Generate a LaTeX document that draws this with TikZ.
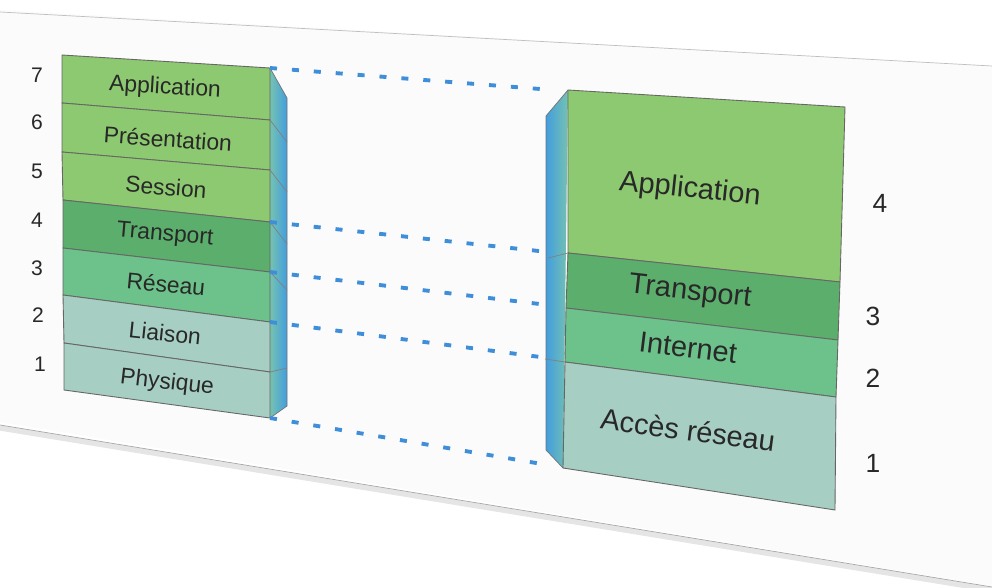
\documentclass[tikz,border=0pt]{standalone}
\usepackage{fontspec}
\setmainfont{Liberation Sans}
\usepackage{tikz}
\usepackage{xcolor}
\usetikzlibrary{arrows.meta}

\definecolor{appgreen}{RGB}{141,201,112}
\definecolor{trgreen}{RGB}{92,174,108}
\definecolor{netgreen}{RGB}{108,194,138}
\definecolor{linkteal}{RGB}{166,206,194}
\definecolor{sideblue}{RGB}{66,158,222}
\definecolor{sidecyan}{RGB}{118,194,176}
\definecolor{linkblue}{RGB}{62,142,218}
\definecolor{inkgray}{RGB}{40,40,40}

\tikzset{
    layer/.style={draw=black!60, line width=0.5pt},
    ositext/.style={text=inkgray, font=\fontsize{13}{15}\selectfont},
    tcptext/.style={text=inkgray, font=\fontsize{16.5}{19}\selectfont},
    ositag/.style={text=inkgray, font=\fontsize{12}{14}\selectfont},
    tcptag/.style={text=inkgray, font=\fontsize{15}{17}\selectfont},
    link/.style={linkblue, line width=2.2pt, dash pattern=on 4pt off 8.5pt},
}

\begin{document}
\begin{tikzpicture}[x=0.02cm, y=-0.02cm]
            \useasboundingbox (0,0) rectangle (992,588);
            \fill[black!1.5] (0,10) -- (992,66) -- (992,586) -- (0,422) -- cycle;
            \draw[black!25] (0,12) -- (992,66);
            \draw[black!10, line width=3pt] (0,428) -- (992,590);
            \draw[black!35] (0,425) -- (992,587);
            % modele OSI
            \coordinate (L0a) at (62,55);   \coordinate (L0b) at (270,68);
            \coordinate (L1a) at (62,103);  \coordinate (L1b) at (270,120);
            \coordinate (L2a) at (62,152);  \coordinate (L2b) at (270,170);
            \coordinate (L3a) at (63,200);  \coordinate (L3b) at (270,222);
            \coordinate (L4a) at (63,248);  \coordinate (L4b) at (270,272);
            \coordinate (L5a) at (63,295);  \coordinate (L5b) at (270,322);
            \coordinate (L6a) at (64,343);  \coordinate (L6b) at (270,372);
            \coordinate (L7a) at (64,390);  \coordinate (L7b) at (270,418);
            \shade[left color=sidecyan, right color=sideblue] (L0b) -- (287,98) -- (287,406) -- (L7b) -- cycle;
            \draw[black!55] (L0b) -- (287,98) -- (287,406) -- (L7b);
            \filldraw[layer, fill=appgreen] (L0a) -- (L0b) -- (L1b) -- (L1a) -- cycle;
            \filldraw[layer, fill=appgreen] (L1a) -- (L1b) -- (L2b) -- (L2a) -- cycle;
            \filldraw[layer, fill=appgreen] (L2a) -- (L2b) -- (L3b) -- (L3a) -- cycle;
            \filldraw[layer, fill=trgreen] (L3a) -- (L3b) -- (L4b) -- (L4a) -- cycle;
            \filldraw[layer, fill=netgreen] (L4a) -- (L4b) -- (L5b) -- (L5a) -- cycle;
            \filldraw[layer, fill=linkteal] (L5a) -- (L5b) -- (L6b) -- (L6a) -- cycle;
            \filldraw[layer, fill=linkteal] (L6a) -- (L6b) -- (L7b) -- (L7a) -- cycle;
            \draw[black!50] (L1b) -- ++(17,22);
            \draw[black!50] (L2b) -- ++(17,22);
            \draw[black!50] (L3b) -- ++(17,22);
            \draw[black!50] (L4b) -- ++(17,18);
            \draw[black!50] (L6b) -- ++(17,-4);
            \node[ositext, rotate=-3.5] (osi7) at (165,88) {Application};
            \node[ositext, rotate=-4] (osi6) at (168,139) {Présentation};
            \node[ositext, rotate=-4.5] (osi5) at (166,187) {Session};
            \node[ositext, rotate=-5] (osi4) at (165,235) {Transport};
            \node[ositext, rotate=-5.5] (osi3) at (166,284) {Réseau};
            \node[ositext, rotate=-6] (osi2) at (165,333) {Liaison};
            \node[ositext, rotate=-6.5] (osi1) at (167,383) {Physique};
            \node[ositag] (n7) at (37,75) {7};
            \node[ositag] (n6) at (37,122) {6};
            \node[ositag] (n5) at (37,171) {5};
            \node[ositag] (n4) at (37,220) {4};
            \node[ositag] (n3) at (37,268) {3};
            \node[ositag] (n2) at (38,315) {2};
            \node[ositag] (n1) at (40,364) {1};
            % modele TCP/IP
            \coordinate (R0a) at (568,90);  \coordinate (R0b) at (845,107);
            \coordinate (R1a) at (568,253); \coordinate (R1b) at (840,282);
            \coordinate (R2a) at (566,308); \coordinate (R2b) at (838,340);
            \coordinate (R3a) at (565,362); \coordinate (R3b) at (836,397);
            \coordinate (R4a) at (563,468); \coordinate (R4b) at (835,510);
            \shade[left color=sideblue, right color=sidecyan] (R0a) -- (546,116) -- (546,450) -- (R4a) -- cycle;
            \draw[black!55] (R0a) -- (546,116) -- (546,450) -- (R4a);
            \filldraw[layer, fill=appgreen] (R0a) -- (R0b) -- (R1b) -- (R1a) -- cycle;
            \filldraw[layer, fill=trgreen] (R1a) -- (R1b) -- (R2b) -- (R2a) -- cycle;
            \filldraw[layer, fill=netgreen] (R2a) -- (R2b) -- (R3b) -- (R3a) -- cycle;
            \filldraw[layer, fill=linkteal] (R3a) -- (R3b) -- (R4b) -- (R4a) -- cycle;
            \draw[black!50] (R1a) -- ++(-20,5);
            \draw[black!50] (R3a) -- ++(-20,-3);
            \node[tcptext, rotate=-6] (tcp4) at (690,190) {Application};
            \node[tcptext, rotate=-6.5] (tcp3) at (690,293) {Transport};
            \node[tcptext, rotate=-7] (tcp2) at (688,348) {Internet};
            \node[tcptext, rotate=-7.5] (tcp1) at (688,430) {Accès réseau};
            \node[tcptag] (m4) at (880,203) {4};
            \node[tcptag] (m3) at (873,316) {3};
            \node[tcptag] (m2) at (873,378) {2};
            \node[tcptag] (m1) at (873,463) {1};
            % correspondances
            \coordinate (R0s) at (553,90);
            \coordinate (R1s) at (548,252);
            \coordinate (R2s) at (548,305);
            \coordinate (R3s) at (548,358);
            \coordinate (R4s) at (548,465);
            \draw[link] (L0b) -- (R0s);
            \draw[link] (L3b) -- (R1s);
            \draw[link] (L4b) -- (R2s);
            \draw[link] (L5b) -- (R3s);
            \draw[link] (L7b) -- (R4s);
\end{tikzpicture}
\end{document}
